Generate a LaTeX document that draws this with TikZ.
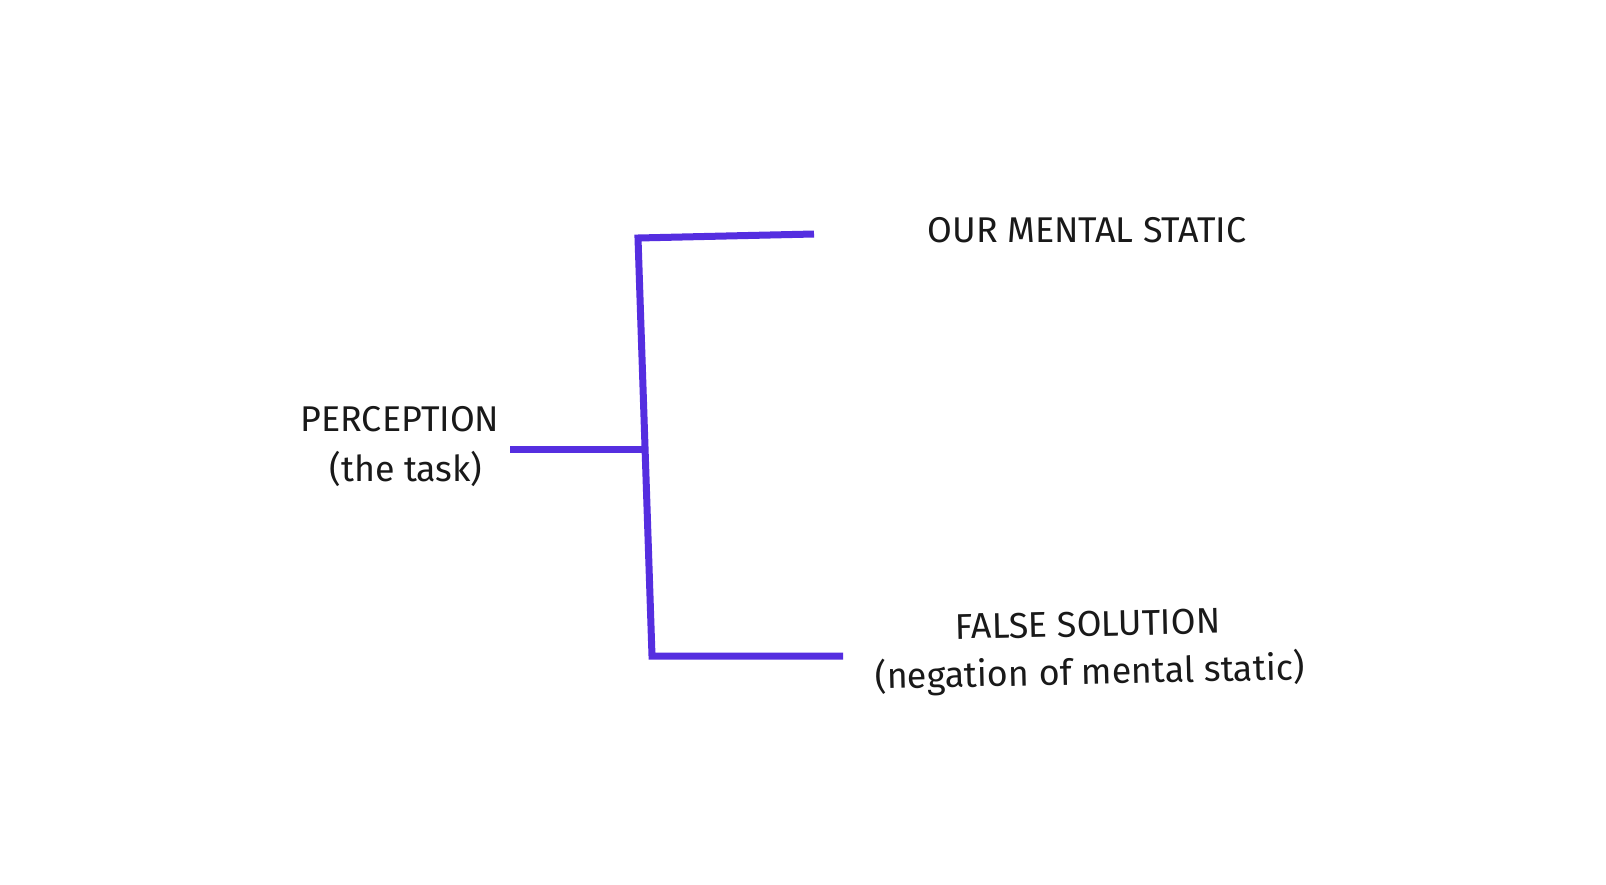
\documentclass[tikz,border=0pt]{standalone}
\usepackage{fontspec}
\setmainfont{Fira Sans}
\definecolor{bracket}{HTML}{552EE0}
\begin{document}
\begin{tikzpicture}[x=0.5pt,y=-0.5pt,
  lbl/.style={inner sep=0pt, font=\fontsize{17.9}{21}\selectfont, text=black!90},
  bline/.style={draw=bracket, line width=3.5pt, line join=miter}]
\useasboundingbox[fill=white] (0,0) rectangle (1606,884);
% text
\node[lbl] (perc) at (400,419) {PERCEPTION};
\node[lbl] (task) at (406,469) {(the task)};
\node[lbl] (ours) at (1087,230) {OUR MENTAL STATIC};
\node[lbl, rotate=1.3] (false) at (1088,624) {FALSE SOLUTION};
\node[lbl, rotate=1.3] (neg) at (1090,673) {(negation of mental static)};
% bracket
\coordinate (stubL) at (510,449);
\coordinate (stubR) at (645,449);
\coordinate (topC) at (638,238);
\coordinate (topR) at (814,234);
\coordinate (botC) at (652,656);
\coordinate (botR) at (843,656);
\draw[bline] (topR) -- (topC) -- (botC) -- (botR);
\draw[bline] (stubL) -- (stubR);
\end{tikzpicture}
\end{document}
